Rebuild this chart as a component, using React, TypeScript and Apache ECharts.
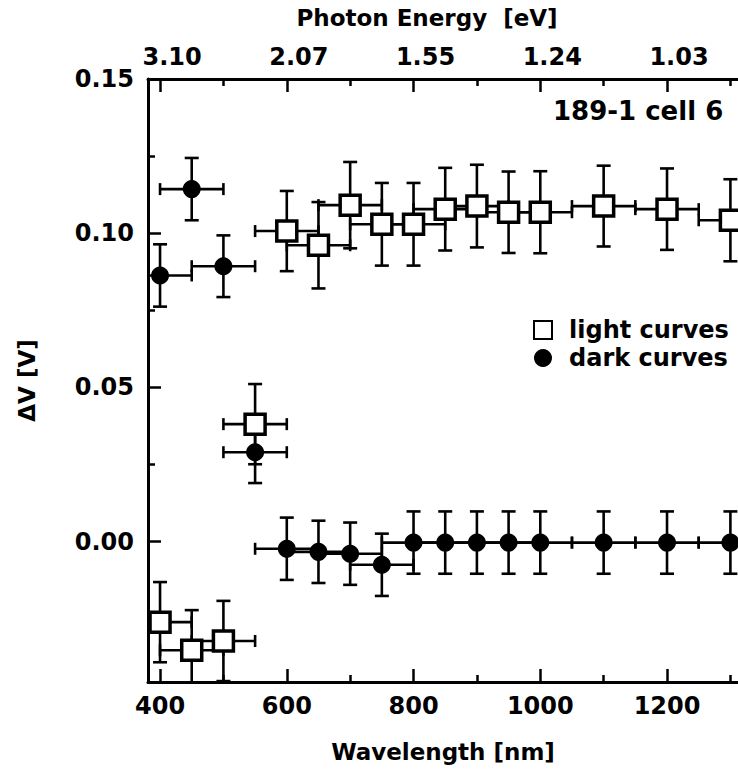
import React, { useEffect, useRef } from 'react';
import * as echarts from 'echarts';

// ---- data ----
const wavelengths = [400, 450, 500, 550, 600, 650, 700, 750, 800, 850, 900, 950, 1000, 1100, 1200, 1300];
const lightValues = [-0.0261, -0.0352, -0.0322, 0.0381, 0.1007, 0.0961, 0.1091, 0.1029, 0.1029, 0.1078, 0.1088, 0.1068, 0.1068, 0.1088, 0.1078, 0.1042];
const lightErrors = [0.013, 0.013, 0.013, 0.013, 0.013, 0.014, 0.014, 0.0134, 0.0134, 0.0134, 0.0134, 0.0132, 0.0133, 0.0131, 0.0132, 0.0133];
const darkValues = [0.0863, 0.1143, 0.0893, 0.029, -0.0023, -0.0033, -0.0039, -0.0075, -0.0003, -0.0003, -0.0003, -0.0003, -0.0003, -0.0003, -0.0003, -0.0003];
const darkErrors = [0.0101, 0.0101, 0.01, 0.01, 0.0101, 0.0101, 0.0101, 0.0101, 0.0101, 0.0101, 0.0101, 0.0101, 0.0101, 0.0101, 0.0101, 0.0101];
const wavelengthHalfWidths = [50, 50, 50, 50, 50, 50, 50, 50, 50, 50, 50, 50, 50, 50, 50, 50];

const wavelengthTicks = [400, 600, 800, 1000, 1200];
const wavelengthMinorTicks = [500, 700, 900, 1100, 1300];
const energyTickLabels = ['3.10', '2.07', '1.55', '1.24', '1.03'];
const voltageTicks = [0, 0.05, 0.1, 0.15];
const voltageMinorTicks = [-0.025, 0.025, 0.075, 0.125];

const X_MIN = 381;
const X_MAX = 1312;
const Y_MIN = -0.0455;
const Y_MAX = 0.15;

const FONT = 'DejaVu Sans';
const txt = { color: '#000', fontFamily: FONT, fontWeight: 'bold' as const, fontSize: 24 };
const title = { color: '#000', fontFamily: FONT, fontWeight: 'bold' as const, fontSize: 23 };

const makeErrorBars = (capV: number, capH: number) => (params: any, api: any) => {
  const x = api.value(0);
  const y = api.value(1);
  const ey = api.value(2);
  const ex = api.value(3);
  const xl = Math.max(x - ex, X_MIN);
  const xr = Math.min(x + ex, X_MAX);
  const yl = Math.max(y - ey, Y_MIN);
  const yh = Math.min(y + ey, Y_MAX);
  const pL = api.coord([xl, y]);
  const pR = api.coord([xr, y]);
  const pT = api.coord([x, yh]);
  const pB = api.coord([x, yl]);
  const style = { stroke: '#000', lineWidth: 2.6 };
  const children: any[] = [
    { type: 'line', shape: { x1: pL[0], y1: pL[1], x2: pR[0], y2: pR[1] }, style },
    { type: 'line', shape: { x1: pT[0], y1: pT[1], x2: pB[0], y2: pB[1] }, style },
  ];
  if (y + ey <= Y_MAX) children.push({ type: 'line', shape: { x1: pT[0] - capV, y1: pT[1], x2: pT[0] + capV, y2: pT[1] }, style });
  if (y - ey >= Y_MIN) children.push({ type: 'line', shape: { x1: pB[0] - capV, y1: pB[1], x2: pB[0] + capV, y2: pB[1] }, style });
  if (x - ex >= X_MIN) children.push({ type: 'line', shape: { x1: pL[0], y1: pL[1] - capH, x2: pL[0], y2: pL[1] + capH }, style });
  if (x + ex <= X_MAX) children.push({ type: 'line', shape: { x1: pR[0], y1: pR[1] - capH, x2: pR[0], y2: pR[1] + capH }, style });
  return { type: 'group', children };
};

export default function App() {
  const ref = useRef<HTMLDivElement>(null);
  useEffect(() => {
    if (!ref.current) return;
    const chart = echarts.init(ref.current, null, { renderer: 'svg' });
    const lightData = wavelengths.map((w, i) => [w, lightValues[i], lightErrors[i], wavelengthHalfWidths[i]]);
    const darkData = wavelengths.map((w, i) => [w, darkValues[i], darkErrors[i], wavelengthHalfWidths[i]]);
    const axisLineStyle = { color: '#000', width: 3 };
    const tickStyle = { color: '#000', width: 2.5 };
    chart.setOption({
      animation: false,
      backgroundColor: '#fff',
      grid: { left: 148, right: 0, top: 79, bottom: 89, containLabel: false },
      xAxis: [
        {
          type: 'value', position: 'bottom', min: X_MIN, max: X_MAX,
          name: 'Wavelength [nm]', nameLocation: 'middle', nameGap: 58,
          nameTextStyle: { ...title },
          axisLine: { show: true, onZero: false, lineStyle: axisLineStyle },
          axisTick: { show: true, inside: true, length: 13, customValues: wavelengthTicks, lineStyle: tickStyle },
          axisLabel: { show: true, customValues: wavelengthTicks, margin: 12, ...txt, formatter: (v: number) => String(Math.round(v)) },
          splitLine: { show: false },
        },
        {
          type: 'value', position: 'bottom', min: X_MIN, max: X_MAX,
          axisLine: { show: false, onZero: false },
          axisTick: { show: true, inside: true, length: 7, customValues: wavelengthMinorTicks, lineStyle: tickStyle },
          axisLabel: { show: false },
          splitLine: { show: false },
        },
        {
          type: 'value', position: 'top', min: X_MIN, max: X_MAX,
          name: 'Photon Energy  [eV]', nameLocation: 'middle', nameGap: 50,
          nameTextStyle: { ...title, padding: [0, 32, 0, 0] },
          axisLine: { show: true, onZero: false, lineStyle: axisLineStyle },
          axisTick: { show: true, inside: true, length: 13, customValues: wavelengthTicks, lineStyle: tickStyle },
          axisLabel: {
            show: true, customValues: wavelengthTicks, margin: 10, ...txt,
            padding: [0, 0, 0, 24],
            formatter: (v: number) => energyTickLabels[wavelengthTicks.indexOf(Math.round(v))] ?? '',
          },
          splitLine: { show: false },
        },
        {
          type: 'value', position: 'top', min: X_MIN, max: X_MAX,
          axisLine: { show: false, onZero: false },
          axisTick: { show: true, inside: true, length: 7, customValues: wavelengthMinorTicks, lineStyle: tickStyle },
          axisLabel: { show: false },
          splitLine: { show: false },
        },
      ],
      yAxis: [
        {
          type: 'value', position: 'left', min: Y_MIN, max: Y_MAX,
          name: 'ΔV [V]', nameLocation: 'middle', nameGap: 110,
          nameTextStyle: { ...title },
          axisLine: { show: true, onZero: false, lineStyle: axisLineStyle },
          axisTick: { show: true, inside: true, length: 13, customValues: voltageTicks, lineStyle: tickStyle },
          axisLabel: { show: true, customValues: voltageTicks, margin: 14, ...txt, formatter: (v: number) => v.toFixed(2) },
          splitLine: { show: false },
        },
        {
          type: 'value', position: 'left', offset: 0, min: Y_MIN, max: Y_MAX,
          axisLine: { show: false, onZero: false },
          axisTick: { show: true, inside: true, length: 7, customValues: voltageMinorTicks, lineStyle: tickStyle },
          axisLabel: { show: false },
          splitLine: { show: false },
        },
      ],
      legend: {
        orient: 'vertical', left: 528, top: 313, itemWidth: 18, itemHeight: 18, itemGap: 4,
        data: ['light curves', 'dark curves'],
        textStyle: { ...txt, padding: [0, 0, 0, 12] },
        selectedMode: false,
      },
      graphic: [
        { type: 'text', left: 553, top: 98, style: { text: '189-1 cell 6', fill: '#000', font: `bold 26px "${FONT}"` } },
      ],
      series: [
        { type: 'custom', name: 'light bars', xAxisIndex: 0, yAxisIndex: 0, data: lightData, renderItem: makeErrorBars(7, 6), encode: { x: 0, y: 1 }, z: 2, silent: true },
        { type: 'custom', name: 'dark bars', xAxisIndex: 0, yAxisIndex: 0, data: darkData, renderItem: makeErrorBars(7, 6), encode: { x: 0, y: 1 }, z: 2, silent: true },
        {
          type: 'scatter', name: 'light curves', xAxisIndex: 0, yAxisIndex: 0,
          data: wavelengths.map((w, i) => [w, lightValues[i]]),
          symbol: 'rect', symbolSize: 20,
          itemStyle: { color: '#fff', borderColor: '#000', borderWidth: 3.5, opacity: 1 },
          z: 4,
        },
        {
          type: 'scatter', name: 'dark curves', xAxisIndex: 0, yAxisIndex: 0,
          data: wavelengths.map((w, i) => [w, darkValues[i]]),
          symbol: 'circle', symbolSize: 18,
          itemStyle: { color: '#000', opacity: 1 },
          z: 5,
        },
      ],
    });
    return () => chart.dispose();
  }, []);
  return <div ref={ref} style={{ position: 'fixed', left: 0, top: 0, width: 738, height: 771, background: '#fff' }} />;
}
